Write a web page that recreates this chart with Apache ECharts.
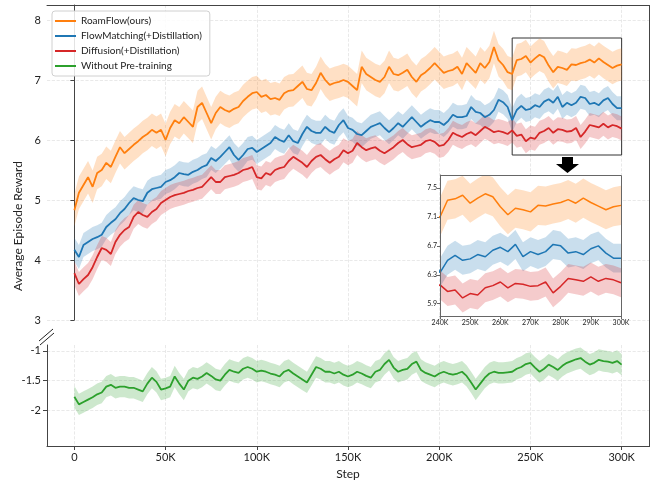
<!DOCTYPE html>
<html>
<head>
<meta charset="utf-8">
<script src="https://cdn.jsdelivr.net/npm/echarts@6/dist/echarts.min.js"></script>
<style>
html, body { margin: 0; padding: 0; background: #fff; }
#chart { width: 659px; height: 481px; }
</style>
</head>
<body>
<div id="chart"></div>
<script>
// one point every 2.5K steps, 0 .. 300K
var stepSize = 2500;

var roamFlow = [4.83,5.12,5.25,5.38,5.22,5.45,5.5,5.62,5.55,5.72,5.88,5.78,5.85,5.92,5.98,6.05,6.1,6.17,6.12,6.17,
  6.0,6.2,6.33,6.28,6.38,6.3,6.22,6.55,6.62,6.45,6.28,6.45,6.55,6.5,6.47,6.52,6.55,6.65,6.72,6.78,
  6.8,6.72,6.75,6.68,6.7,6.67,6.78,6.82,6.83,6.9,6.97,6.85,6.83,6.95,7.12,7.0,6.92,6.95,6.97,7.0,
  6.97,6.9,6.83,7.22,7.1,7.05,7.0,6.97,7.05,7.22,7.1,7.08,7.12,7.17,7.05,6.97,7.08,7.13,7.2,7.28,
  7.2,7.12,7.15,7.17,7.22,7.1,7.28,7.2,7.12,7.28,7.2,7.3,7.55,7.33,7.25,7.13,7.1,7.33,7.35,7.4,
  7.29,7.36,7.42,7.38,7.24,7.13,7.22,7.2,7.17,7.26,7.25,7.28,7.3,7.34,7.29,7.36,7.3,7.25,7.2,7.24,7.26];

var flowMatching = [4.17,4.05,4.25,4.3,4.35,4.38,4.42,4.55,4.62,4.68,4.78,4.85,4.95,5.03,5.0,4.98,5.12,5.18,5.2,5.22,
  5.3,5.33,5.38,5.45,5.43,5.42,5.47,5.5,5.55,5.58,5.7,5.65,5.72,5.8,5.88,5.75,5.67,5.75,5.85,5.87,
  5.8,5.85,5.9,5.95,6.05,6.0,5.97,6.08,5.98,5.95,6.1,6.22,6.15,6.12,6.12,6.22,6.15,6.12,6.25,6.33,
  6.2,6.17,6.1,6.08,6.15,6.22,6.25,6.28,6.2,6.13,6.2,6.28,6.22,6.3,6.38,6.3,6.22,6.28,6.33,6.3,
  6.3,6.25,6.32,6.42,6.38,6.38,6.4,6.55,6.47,6.45,6.38,6.42,6.5,6.67,6.63,6.55,6.33,6.5,6.57,6.5,
  6.52,6.58,6.55,6.64,6.68,6.62,6.72,6.55,6.62,6.58,6.62,6.72,6.7,6.6,6.62,6.58,6.66,6.7,6.6,6.53,6.53];

var diffusion = [3.78,3.6,3.68,3.75,3.88,4.05,4.2,4.17,4.1,4.3,4.42,4.5,4.55,4.72,4.8,4.75,4.72,4.8,4.85,4.95,
  5.0,5.05,5.08,5.1,5.12,5.15,5.17,5.2,5.22,5.3,5.38,5.3,5.3,5.38,5.4,5.42,5.45,5.5,5.52,5.55,
  5.38,5.36,5.45,5.42,5.5,5.53,5.55,5.65,5.72,5.67,5.62,5.55,5.65,5.72,5.75,5.68,5.62,5.68,5.72,5.83,
  5.78,5.82,5.95,5.88,5.83,5.86,5.88,5.82,5.78,5.83,5.88,5.95,6.0,5.93,5.88,5.9,5.92,5.98,6.0,5.97,
  5.9,5.92,6.0,6.12,6.08,6.05,6.1,6.13,6.08,6.15,6.22,6.18,6.13,6.15,6.13,6.1,6.16,6.07,6.09,5.98,
  6.04,6.02,6.12,6.15,6.2,6.12,6.18,6.17,6.14,6.15,6.2,6.05,6.14,6.25,6.23,6.21,6.27,6.21,6.25,6.23,6.19];

var noPretrain = [-1.77,-1.9,-1.86,-1.82,-1.78,-1.73,-1.7,-1.6,-1.57,-1.62,-1.6,-1.6,-1.62,-1.62,-1.65,-1.68,-1.55,-1.45,-1.52,-1.65,
  -1.63,-1.6,-1.43,-1.55,-1.65,-1.5,-1.45,-1.47,-1.43,-1.37,-1.42,-1.48,-1.5,-1.4,-1.32,-1.35,-1.37,-1.3,-1.27,-1.3,
  -1.35,-1.33,-1.35,-1.38,-1.4,-1.43,-1.35,-1.32,-1.38,-1.43,-1.48,-1.53,-1.4,-1.27,-1.3,-1.35,-1.35,-1.38,-1.35,-1.4,
  -1.43,-1.4,-1.35,-1.38,-1.42,-1.45,-1.35,-1.32,-1.22,-1.15,-1.28,-1.35,-1.32,-1.3,-1.22,-1.18,-1.32,-1.37,-1.4,-1.43,
  -1.38,-1.35,-1.38,-1.4,-1.38,-1.35,-1.42,-1.53,-1.65,-1.55,-1.45,-1.38,-1.35,-1.37,-1.37,-1.36,-1.35,-1.3,-1.27,-1.22,
  -1.2,-1.28,-1.35,-1.3,-1.23,-1.27,-1.32,-1.25,-1.2,-1.17,-1.14,-1.12,-1.18,-1.23,-1.2,-1.15,-1.17,-1.18,-1.2,-1.17,-1.23];

// half-width of the shaded band
var spreads = { roam: 0.27, flow: 0.2, diff: 0.2, none: 0.18 };

var names = ['RoamFlow(ours)', 'FlowMatching(+Distillation)', 'Diffusion(+Distillation)', 'Without Pre-training'];
var colors = ['#ff7f0e', '#1f77b4', '#d62728', '#2ca02c'];

var xTicks = [0, 50000, 100000, 150000, 200000, 250000, 300000];
var yTopTicks = [3, 4, 5, 6, 7, 8];
var yBottomTicks = [-2, -1.5, -1];
var insetXTicks = [240000, 250000, 260000, 270000, 280000, 290000, 300000];
var insetYTicks = [5.9, 6.3, 6.7, 7.1, 7.5];

var FONT = 'Lato';

function pts(arr) {
  return arr.map(function (v, i) { return [i * stepSize, v]; });
}
function kLabel(v) { return v === 0 ? '0' : (v / 1000) + 'K'; }

// shaded band (mean +/- spread) drawn as one polygon through the axis scale
function band(arr, s, color, xi, yi, z) {
  return {
    type: 'custom', xAxisIndex: xi, yAxisIndex: yi, silent: true, clip: true, z: z,
    data: arr.map(function (v, i) { return [i * stepSize, v - s, v + s]; }),
    encode: { x: 0, y: [1, 2] },
    renderItem: function (params, api) {
      if (params.dataIndex !== 0) return null;
      var up = [], lo = [];
      for (var i = 0; i < arr.length; i++) {
        up.push(api.coord([i * stepSize, arr[i] + s]));
        lo.push(api.coord([i * stepSize, arr[i] - s]));
      }
      return {
        type: 'polygon',
        shape: { points: up.concat(lo.reverse()) },
        style: { fill: color, opacity: 0.24 }
      };
    }
  };
}
function line(name, arr, color, xi, yi, w, z) {
  return {
    type: 'line', name: name, xAxisIndex: xi, yAxisIndex: yi, data: pts(arr),
    symbol: 'none', color: color, lineStyle: { color: color, width: w }, z: z
  };
}

var dom = document.getElementById('chart');
var myChart = echarts.init(dom);

var axisLineStyle = { color: '#444', width: 1 };
var splitStyle = { color: '#e3e3e3', type: 'dashed', width: 0.8 };

var series = [];
// main top panel
series.push(band(roamFlow, spreads.roam, colors[0], 0, 0, 1));
series.push(band(flowMatching, spreads.flow, colors[1], 0, 0, 1));
series.push(band(diffusion, spreads.diff, colors[2], 0, 0, 1));
var mainRoam = line(names[0], roamFlow, colors[0], 0, 0, 1.8, 2);
mainRoam.markArea = {
  silent: true,
  itemStyle: { color: 'rgba(0,0,0,0)', borderColor: '#333', borderWidth: 1 },
  data: [[{ xAxis: 240000, yAxis: 5.75 }, { xAxis: 300000, yAxis: 7.7 }]]
};
series.push(mainRoam);
series.push(line(names[1], flowMatching, colors[1], 0, 0, 1.8, 2));
series.push(line(names[2], diffusion, colors[2], 0, 0, 1.8, 2));
// bottom panel
series.push(band(noPretrain, spreads.none, colors[3], 1, 1, 1));
series.push(line(names[3], noPretrain, colors[3], 1, 1, 1.8, 2));
// inset
series.push(band(roamFlow, spreads.roam, colors[0], 2, 2, 5));
series.push(band(flowMatching, spreads.flow, colors[1], 2, 2, 5));
series.push(band(diffusion, spreads.diff, colors[2], 2, 2, 5));
series.push(line(names[0], roamFlow, colors[0], 2, 2, 1.5, 6));
series.push(line(names[1], flowMatching, colors[1], 2, 2, 1.5, 6));
series.push(line(names[2], diffusion, colors[2], 2, 2, 1.5, 6));

var option = {
  animation: false,
  textStyle: { fontFamily: FONT },
  grid: [
    { left: 47, right: 10, top: 5, height: 315 },
    { left: 47, right: 10, top: 345, height: 102 },
    { left: 440, top: 175, width: 181, height: 141 }
  ],
  legend: {
    data: names,
    orient: 'vertical',
    left: 52, top: 11,
    icon: 'rect',
    itemWidth: 21, itemHeight: 2, itemGap: 3,
    padding: [4, 8, 4, 3],
    borderColor: '#d0d0d0', borderWidth: 1, borderRadius: 3,
    backgroundColor: 'rgba(255,255,255,0.85)',
    textStyle: { fontSize: 10, color: '#222', fontFamily: FONT, lineHeight: 12 }
  },
  xAxis: [
    {
      gridIndex: 0, type: 'value', min: -15000, max: 315000, position: 'top',
      axisLine: { show: true, lineStyle: axisLineStyle },
      axisTick: { show: false, customValues: xTicks },
      axisLabel: { show: false, customValues: xTicks },
      splitLine: { show: true, lineStyle: splitStyle }
    },
    {
      gridIndex: 1, type: 'value', min: -15000, max: 315000,
      name: 'Step', nameLocation: 'middle', nameGap: 22,
      nameTextStyle: { fontSize: 12, color: '#222', fontFamily: FONT },
      axisLine: { show: true, onZero: false, lineStyle: axisLineStyle },
      axisTick: { show: true, length: 4, customValues: xTicks, lineStyle: axisLineStyle },
      axisLabel: { customValues: xTicks, formatter: kLabel, fontSize: 11, color: '#222', margin: 6 },
      splitLine: { show: true, lineStyle: splitStyle }
    },
    {
      gridIndex: 2, type: 'value', min: 240000, max: 300000, z: 4,
      axisLine: { show: true, onZero: false, lineStyle: { color: '#666' } },
      axisTick: { show: true, length: 3, customValues: insetXTicks, lineStyle: { color: '#666' } },
      axisLabel: { customValues: insetXTicks, formatter: kLabel, fontSize: 7, color: '#222', margin: 3 },
      splitLine: { show: false }
    }
  ],
  yAxis: [
    {
      gridIndex: 0, type: 'value', min: 3, max: 8.25,
      axisLine: { show: true, lineStyle: axisLineStyle },
      axisTick: { show: true, length: 4, customValues: yTopTicks, lineStyle: axisLineStyle },
      axisLabel: { customValues: yTopTicks, fontSize: 11, color: '#222', margin: 6 },
      splitLine: { show: true, lineStyle: splitStyle }
    },
    {
      gridIndex: 1, type: 'value', min: -2.6, max: -0.9,
      axisLine: { show: true, onZero: false, lineStyle: axisLineStyle },
      axisTick: { show: true, length: 4, customValues: yBottomTicks, lineStyle: axisLineStyle },
      axisLabel: { customValues: yBottomTicks, fontSize: 11, color: '#222', margin: 6 },
      splitLine: { show: true, lineStyle: splitStyle }
    },
    {
      gridIndex: 2, type: 'value', min: 5.73, max: 7.68, z: 4,
      axisLine: { show: true, onZero: false, lineStyle: { color: '#666' } },
      axisTick: { show: true, length: 3, customValues: insetYTicks, lineStyle: { color: '#666' } },
      axisLabel: { customValues: insetYTicks, fontSize: 7, color: '#222', margin: 3,
        formatter: function (v) { return v.toFixed(1); } },
      splitLine: { show: false }
    }
  ],
  graphic: [
    // white backing and frame of the zoom inset
    { type: 'rect', z: 3, silent: true, shape: { x: 440, y: 175, width: 181, height: 141 }, style: { fill: '#fff' } },
    { type: 'rect', z: 20, silent: true, shape: { x: 440.5, y: 175.5, width: 181, height: 141 }, style: { fill: 'none', stroke: '#666', lineWidth: 1 } },
    // right spine across both panels
    { type: 'line', z: 20, silent: true, shape: { x1: 649.5, y1: 5, x2: 649.5, y2: 447 }, style: { stroke: '#444', lineWidth: 1 } },
    // axis break marks
    { type: 'line', z: 20, silent: true, shape: { x1: 39, y1: 341, x2: 53, y2: 329 }, style: { stroke: '#222', lineWidth: 1 } },
    { type: 'line', z: 20, silent: true, shape: { x1: 40, y1: 345, x2: 54, y2: 333 }, style: { stroke: '#222', lineWidth: 1 } },
    // arrow pointing from the box down to the inset
    { type: 'polygon', z: 20, silent: true,
      shape: { points: [[562, 157], [573, 157], [573, 164], [579, 164], [567.5, 173], [556, 164], [562, 164]] },
      style: { fill: '#000' } },
    { type: 'text', z: 20, silent: true, x: 18, y: 226, rotation: Math.PI / 2,
      style: { text: 'Average Episode Reward', fontSize: 12, fill: '#222', fontFamily: FONT,
        textAlign: 'center', textVerticalAlign: 'middle' } }
  ],
  series: series
};

myChart.setOption(option);
</script>
</body>
</html>
